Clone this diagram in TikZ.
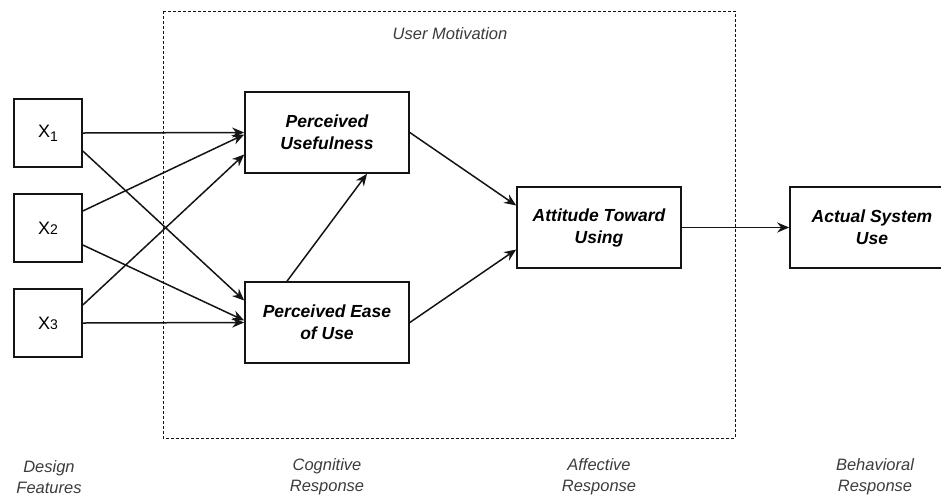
\documentclass[tikz,border=0pt]{standalone}
\usepackage{fontspec}
\setmainfont{Liberation Sans}
\usetikzlibrary{positioning, arrows.meta}
\definecolor{tgrey}{RGB}{60,60,60}
\definecolor{tline}{RGB}{20,20,20}

\tikzset{
    xbox/.style={draw=tline, line width=1.6pt, minimum width=68pt, minimum height=68pt,
                 inner sep=0pt, font=\fontsize{18}{20}\selectfont},
    tambox/.style={draw=tline, line width=1.6pt, minimum width=164pt, minimum height=81pt,
                   align=center, inner sep=2pt, font=\fontsize{17.5}{22}\selectfont\bfseries\itshape},
    link/.style={draw=tline, line width=1.5pt, -{Stealth[length=12pt, width=10pt]}},
    stage/.style={align=center, text=tgrey, font=\fontsize{16.5}{21}\selectfont\itshape}
}

\begin{document}
\begin{tikzpicture}[x=1pt, y=-1pt]
        \useasboundingbox (0,0) rectangle (941,499);
        \clip (0,0) rectangle (941,499);

        % user motivation frame
        \draw[tline, line width=1pt, dash pattern=on 3pt off 2pt] (163,11) rectangle (735,438);
        \node[name=umot, text=tgrey, font=\fontsize{16.5}{18}\selectfont\itshape] at (450,34) {User Motivation};

        % design features
        \node[name=x1, xbox] at (48,133) {X\raisebox{-4pt}{\fontsize{14}{14}\selectfont 1}};
        \node[name=x2, xbox] at (48,228) {X{\fontsize{14}{14}\selectfont 2}};
        \node[name=x3, xbox] at (48,323) {X{\fontsize{14}{14}\selectfont 3}};

        % cognitive, affective and behavioral boxes
        \node[name=pu, tambox] at (327,132.5) {Perceived\\Usefulness};
        \node[name=peou, tambox] at (327,322.5) {Perceived Ease\\of Use};
        \node[name=att, tambox] at (599,227.5) {Attitude Toward\\Using};
        \node[name=asu, tambox] at (872,227.5) {Actual System\\Use};

        % features to beliefs
        \draw[link] (x1.east) -- (pu.west);
        \draw[link] ([yshift=-18pt]x1.east) -- ([yshift=22pt]peou.west);
        \draw[link] ([yshift=17pt]x2.east) -- ([yshift=-2pt]pu.west);
        \draw[link] ([yshift=-17pt]x2.east) -- ([yshift=2pt]peou.west);
        \draw[link] ([yshift=18pt]x3.east) -- ([yshift=-22pt]pu.west);
        \draw[link] (x3.east) -- (peou.west);

        % beliefs to attitude to use
        \draw[link] ([xshift=-40pt]peou.north) -- ([xshift=40pt]pu.south);
        \draw[link] (pu.east) -- ([yshift=22pt]att.west);
        \draw[link] (peou.east) -- ([yshift=-22pt]att.west);
        \draw[link] (att.east) -- (asu.west);

        % stage labels
        \node[name=sdes, stage] at (49,477) {Design\\Features};
        \node[name=scog, stage] at (327,477) {Cognitive\\Response};
        \node[name=saff, stage] at (599,477) {Affective\\Response};
        \node[name=sbeh, stage] at (875,477) {Behavioral\\Response};
\end{tikzpicture}
\end{document}
